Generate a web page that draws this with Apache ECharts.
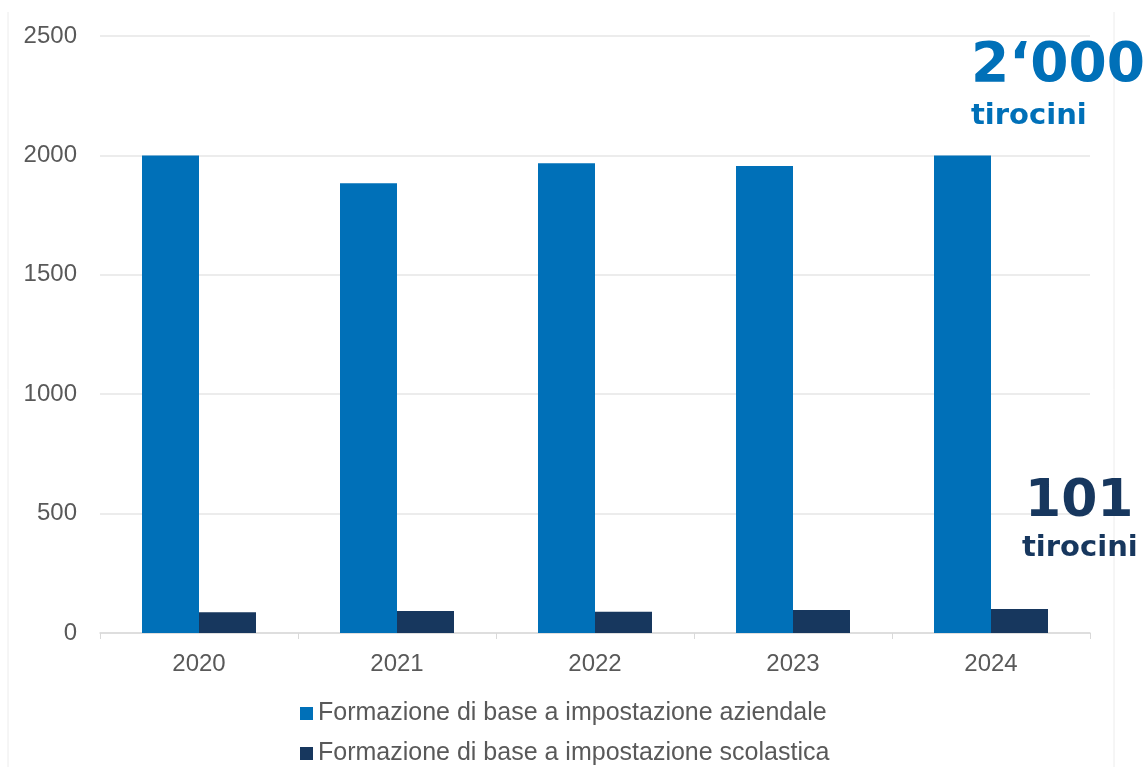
<!DOCTYPE html>
<html>
<head>
<meta charset="utf-8">
<script src="https://cdn.jsdelivr.net/npm/echarts@6/dist/echarts.min.js"></script>
<style>html,body{margin:0;padding:0;background:#fff}#c{width:1146px;height:767px}</style>
</head>
<body>
<div id="c"></div>
<script>
const categories = ['2020', '2021', '2022', '2023', '2024'];
const aziendale = [2000, 1883, 1967, 1956, 2000];
const scolastica = [87, 92, 89, 96, 101];
const seriesNames = ['Formazione di base a impostazione aziendale', 'Formazione di base a impostazione scolastica'];
const yTicks = [0, 500, 1000, 1500, 2000, 2500];

const chart = echarts.init(document.getElementById('c'));
const font = 'Liberation Sans, Arial, Helvetica, sans-serif';
const legendCommon = {
  orient: 'vertical', left: 295,
  itemWidth: 13, itemHeight: 13, icon: 'rect', itemGap: 6,
  textStyle: { fontSize: 25, color: '#595959', fontFamily: font }
};
chart.setOption({
  animation: false,
  grid: { left: 100, right: 56, top: 36, bottom: 134 },
  legend: [
    Object.assign({}, legendCommon, { top: 696, data: [seriesNames[0]] }),
    Object.assign({}, legendCommon, { top: 736, data: [seriesNames[1]] })
  ],
  xAxis: {
    type: 'category', data: categories,
    axisLine: { lineStyle: { color: '#d9d9d9', width: 1.5 } },
    axisTick: { show: true, length: 6, lineStyle: { color: '#d9d9d9' } },
    axisLabel: { fontSize: 24, color: '#595959', margin: 19, fontFamily: font }
  },
  yAxis: {
    type: 'value', min: 0, max: yTicks[yTicks.length - 1], interval: 500,
    axisLine: { show: false }, axisTick: { show: false },
    splitLine: { lineStyle: { color: '#e6e6e6', width: 1.5 } },
    axisLabel: { fontSize: 24, color: '#595959', margin: 23, fontFamily: font,
      formatter: v => String(v) }
  },
  series: [
    { name: seriesNames[0], type: 'bar', data: aziendale, barWidth: 57, barGap: '0%',
      itemStyle: { color: '#0070b8' } },
    { name: seriesNames[1], type: 'bar', data: scolastica, barWidth: 57, barGap: '0%',
      itemStyle: { color: '#17375e' } }
  ],
  graphic: [
    { type: 'line', shape: { x1: 8, y1: 12, x2: 8, y2: 767 }, style: { stroke: '#ececec', lineWidth: 1 } },
    { type: 'line', shape: { x1: 1114, y1: 12, x2: 1114, y2: 767 }, style: { stroke: '#ececec', lineWidth: 1 } },
    { type: 'text', z: 100, left: 971, top: 39, style: { text: '2‘000', fill: '#0070b8', font: 'bold 55px DejaVu Sans, sans-serif' } },
    { type: 'text', z: 100, left: 971, top: 102, style: { text: 'tirocini', fill: '#0070b8', font: 'bold 29px DejaVu Sans, sans-serif' } },
    { type: 'text', z: 100, left: 1025, top: 476, style: { text: '101', fill: '#17375e', font: 'bold 52px DejaVu Sans, sans-serif' } },
    { type: 'text', z: 100, left: 1022, top: 534, style: { text: 'tirocini', fill: '#17375e', font: 'bold 29px DejaVu Sans, sans-serif' } }
  ]
});
</script>
</body>
</html>
